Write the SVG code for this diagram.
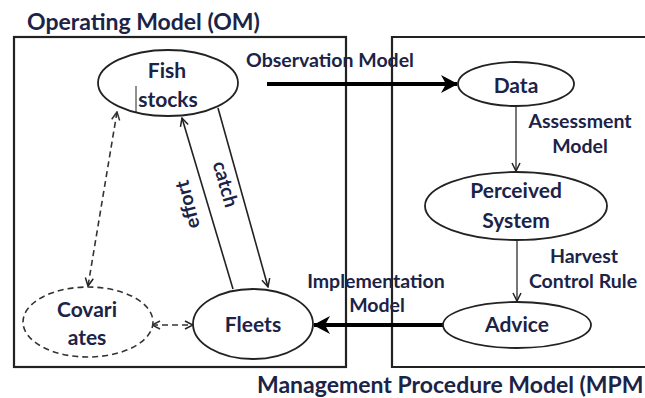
<svg xmlns="http://www.w3.org/2000/svg" width="645" height="398" viewBox="0 0 645 398">
  <style>
    .bg { fill: #ffffff; }
    .box { fill: none; stroke: #222; stroke-width: 2.2; }
    .node { fill: #ffffff; stroke: #222; stroke-width: 1.8; }
    .dnode { fill: #ffffff; stroke: #333; stroke-width: 1.6; stroke-dasharray: 6 4; }
    .title { font-family: Lato, "Liberation Sans", sans-serif; font-weight: bold; font-size: 23px; fill: #1b2347; }
    .ntext { font-family: Lato, "Liberation Sans", sans-serif; font-weight: bold; font-size: 21px; fill: #1b2347; text-anchor: middle; }
    .ltext { font-family: Lato, "Liberation Sans", sans-serif; font-weight: bold; font-size: 19.5px; fill: #1b2347; text-anchor: middle; }
    .thick { fill: none; stroke: #000; stroke-width: 4; }
    .thin { fill: none; stroke: #222; stroke-width: 1.6; }
    .gray { fill: none; stroke: #555; stroke-width: 1.6; }
    .dash { fill: none; stroke: #333; stroke-width: 1.6; stroke-dasharray: 6 4; }
  </style>
  <defs>
    <marker id="ahThick" markerUnits="userSpaceOnUse" viewBox="0 0 17 18" refX="16" refY="9" markerWidth="17" markerHeight="18" orient="auto">
      <path d="M0,0 L17,9 L0,18 L5,9 z" fill="#000"/>
    </marker>
    <marker id="ahThin" markerUnits="userSpaceOnUse" viewBox="0 0 10 10" refX="9" refY="5" markerWidth="10" markerHeight="10" orient="auto">
      <path d="M1,1 L9,5 L1,9" fill="none" stroke="#222" stroke-width="1.5"/>
    </marker>
    <marker id="ahThinStart" markerUnits="userSpaceOnUse" viewBox="0 0 10 10" refX="1" refY="5" markerWidth="10" markerHeight="10" orient="auto">
      <path d="M9,1 L1,5 L9,9" fill="none" stroke="#333" stroke-width="1.5"/>
    </marker>
  </defs>
  <rect class="bg" x="0" y="0" width="645" height="398"/>

  <g id="om-box">
    <rect class="box" x="14" y="37" width="332" height="330"/>
    <text class="title" x="27" y="30">Operating Model (OM)</text>
  </g>
  <g id="mpm-box">
    <path class="box" d="M660,37 L392,37 L392,367 L660,367"/>
    <text class="title" x="257" y="393">Management Procedure Model (MPM</text>
  </g>

  <g id="connectors">
    <line class="thick" x1="267" y1="84" x2="457" y2="84" marker-end="url(#ahThick)"/>
    <text class="ltext" x="330" y="67">Observation Model</text>

    <line class="gray" x1="516" y1="107" x2="516" y2="171" marker-end="url(#ahThin)"/>
    <text class="ltext" x="580" y="128">Assessment</text>
    <text class="ltext" x="580" y="153">Model</text>

    <line class="gray" x1="517" y1="240" x2="517" y2="301" marker-end="url(#ahThin)"/>
    <text class="ltext" x="584" y="263">Harvest</text>
    <text class="ltext" x="583" y="288">Control Rule</text>

    <line class="thick" x1="443" y1="325" x2="314" y2="325" marker-end="url(#ahThick)"/>
    <text class="ltext" x="376" y="288">Implementation</text>
    <text class="ltext" x="377" y="312">Model</text>

    <line class="thin" x1="233" y1="289" x2="182" y2="118" marker-end="url(#ahThin)"/>
    <text class="ltext" transform="translate(194,203) rotate(-104)">effort</text>
    <line class="thin" x1="218" y1="108" x2="268" y2="287" marker-end="url(#ahThin)"/>
    <text class="ltext" transform="translate(219,186) rotate(74)">catch</text>

    <line class="dash" x1="117" y1="112" x2="88" y2="286" marker-start="url(#ahThinStart)" marker-end="url(#ahThin)"/>
    <line class="dash" x1="152" y1="325" x2="193" y2="325" marker-start="url(#ahThinStart)" marker-end="url(#ahThin)"/>
  </g>

  <g id="fish-stocks">
    <ellipse class="node" cx="168" cy="83" rx="70" ry="33"/>
    <text class="ntext" x="167" y="78">Fish</text>
    <text class="ntext" x="168" y="107">stocks</text>
    <line x1="136" y1="86" x2="136" y2="112" stroke="#222" stroke-width="1"/>
  </g>
  <g id="data">
    <ellipse class="node" cx="516" cy="84" rx="58" ry="22"/>
    <text class="ntext" x="516" y="93">Data</text>
  </g>
  <g id="perceived-system">
    <ellipse class="node" cx="516" cy="206" rx="91" ry="34"/>
    <text class="ntext" x="516" y="198">Perceived</text>
    <text class="ntext" x="516" y="228">System</text>
  </g>
  <g id="advice">
    <ellipse class="node" cx="517" cy="325" rx="74" ry="23"/>
    <text class="ntext" x="517" y="332">Advice</text>
  </g>
  <g id="fleets">
    <ellipse class="node" cx="253" cy="324" rx="60" ry="35"/>
    <text class="ntext" x="253" y="332">Fleets</text>
  </g>
  <g id="covariates">
    <ellipse class="dnode" cx="88" cy="322" rx="65" ry="35"/>
    <text class="ntext" x="87" y="317">Covari</text>
    <text class="ntext" x="87" y="345">ates</text>
  </g>
</svg>
